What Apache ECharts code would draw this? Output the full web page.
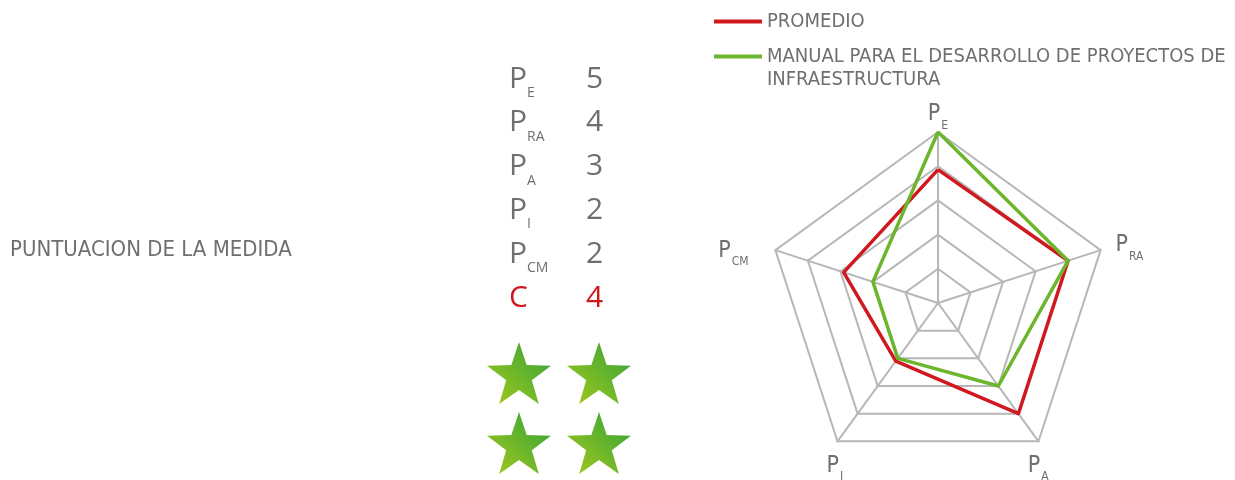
<!DOCTYPE html>
<html>
<head>
<meta charset="utf-8">
<script src="https://cdn.jsdelivr.net/npm/echarts@6/dist/echarts.min.js"></script>
<style>
  html, body { margin: 0; padding: 0; background: #fff; }
  #chart { width: 1235px; height: 480px; }
</style>
</head>
<body>
<div id="chart"></div>
<script>
// criteria, in the order of the score table
const subs = ['E', 'RA', 'A', 'I', 'CM'];
const manual = [5, 4, 3, 2, 2];
const promedio = [3.9, 4, 4, 2.1, 2.9];
const scoreC = 4;
const leftTitle = 'PUNTUACION DE LA MEDIDA';
const seriesNames = ['PROMEDIO', 'MANUAL PARA EL DESARROLLO DE PROYECTOS DE\nINFRAESTRUCTURA'];

const narrow = "'Liberation Sans Narrow', 'DejaVu Sans Condensed', 'Roboto', sans-serif";
const grey = '#6f6f6f';
const red = '#d0181f';
const green = '#6cb52d';

// radar goes counter-clockwise from the top: E, CM, I, A, RA
const radarOrder = [0, 4, 3, 2, 1];

// nudges for the radar names: [P padding, subscript padding]
const namePad = {
  E:  [[0, 0, -3.5, 0], [22, 0, -3.5, 1]],
  RA: [[0, 0, 7, 11], [22, 0, 7, 1]],
  CM: [[4, 0, 0, 0], [26, 23, 0, 1]],
  I:  [[42, 0, 0, 0], [64, -8, 0, 1]],
  A:  [[42, 0, 0, -13], [64, 0, 0, 1]]
};
const nameRich = {};
subs.forEach(function (s) {
  nameRich['p' + s] = { fontFamily: narrow, fontSize: 23, color: grey, padding: namePad[s][0] };
  nameRich['s' + s] = { fontFamily: narrow, fontSize: 12, color: grey, padding: namePad[s][1] };
});

const chart = echarts.init(document.getElementById('chart'));

// score table rows
const rowTop = 83, rowStep = 43.8;
const bigFont = "30px 'Open Sans', sans-serif";
const tableRows = [];
subs.forEach(function (s, i) {
  const y = rowTop + i * rowStep;
  tableRows.push(
    { type: 'text', left: 509, top: y - 19, style: { text: 'P', font: bigFont, fill: grey } },
    { type: 'text', left: 527, top: y + 3, style: { text: s, font: "14px 'Open Sans', sans-serif", fill: grey } },
    { type: 'text', left: 586, top: y - 19, style: { text: String(manual[i]), font: bigFont, fill: grey } }
  );
});
const cy = rowTop + subs.length * rowStep;
tableRows.push(
  { type: 'text', left: 509, top: cy - 19, style: { text: 'C', font: bigFont, fill: red } },
  { type: 'text', left: 586, top: cy - 19, style: { text: String(scoreC), font: bigFont, fill: red } }
);

// stars, two per row
const starData = [];
for (let i = 0; i < scoreC; i++) starData.push([i % 2, Math.floor(i / 2)]);

const starPath = 'path://M50,0 L62,36 L100,37 L70,60 L81,97 L50,75 L19,97 L30,60 L0,37 L38,36 Z';

const option = {
  backgroundColor: '#fff',
  animation: false,
  title: {
    text: leftTitle,
    left: 5,
    top: 234,
    textStyle: { fontFamily: narrow, fontSize: 22, fontWeight: 'normal', color: grey }
  },
  legend: {
    orient: 'vertical',
    left: 714,
    top: 10,
    padding: 0,
    itemWidth: 48,
    itemHeight: 4,
    itemGap: -11,
    icon: 'rect',
    data: seriesNames,
    formatter: function (name) {
      // blank first line keeps the icon level with the first text line
      return name.indexOf('\n') >= 0 ? '\n' + name : name;
    },
    textStyle: { fontFamily: narrow, fontSize: 20, color: grey, lineHeight: 23 }
  },
  radar: {
    center: [938, 303],
    radius: 171,
    shape: 'polygon',
    splitNumber: 5,
    indicator: radarOrder.map(function (k) { return { name: subs[k], max: 5, min: 0 }; }),
    axisName: {
      formatter: function (name) { return '{p' + name + '|P}{s' + name + '|' + name + '}'; },
      rich: nameRich
    },
    nameGap: 4,
    axisLine: { lineStyle: { color: '#b7b7b7', width: 2 } },
    splitLine: { lineStyle: { color: '#b7b7b7', width: 2 } },
    splitArea: { show: false }
  },
  grid: { left: 479, top: 338, width: 160, height: 140 },
  xAxis: { type: 'value', min: -0.5, max: 1.5, show: false },
  yAxis: { type: 'value', min: -0.5, max: 1.5, inverse: true, show: false },
  series: [
    {
      type: 'radar',
      symbol: 'none',
      data: [
        { name: seriesNames[0], value: radarOrder.map(function (k) { return promedio[k]; }),
          lineStyle: { color: red, width: 3.5 }, itemStyle: { color: red } },
        { name: seriesNames[1], value: radarOrder.map(function (k) { return manual[k]; }),
          lineStyle: { color: green, width: 3.5 }, itemStyle: { color: green } }
      ]
    },
    {
      type: 'scatter',
      symbol: starPath,
      symbolSize: [64, 62],
      silent: true,
      data: starData,
      itemStyle: {
        opacity: 1,
        color: new echarts.graphic.LinearGradient(1, 0, 0, 1, [
          { offset: 0, color: '#2fa23a' },
          { offset: 1, color: '#a6c91c' }
        ])
      }
    }
  ],
  graphic: tableRows
};

chart.setOption(option);
</script>
</body>
</html>
